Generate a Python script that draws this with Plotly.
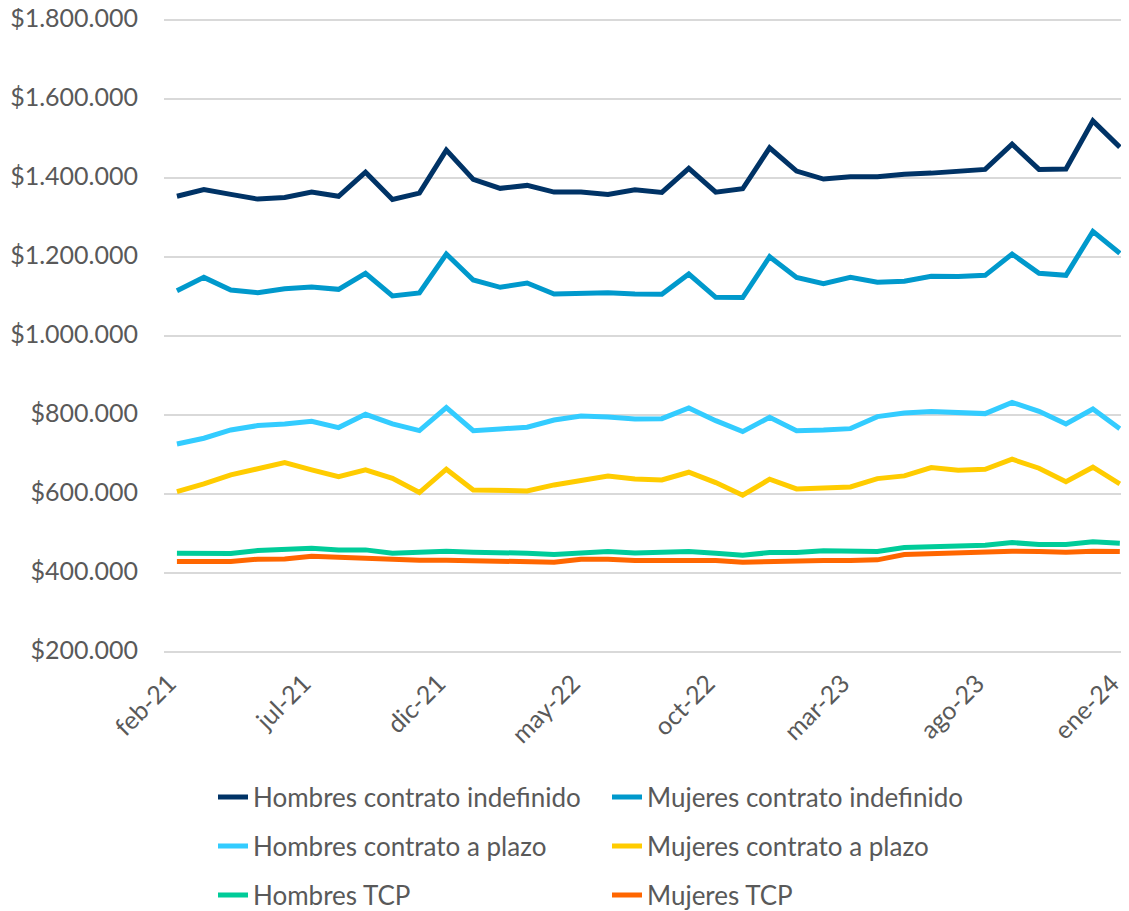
import plotly.graph_objects as go

months = ["feb-21","mar-21","abr-21","may-21","jun-21","jul-21","ago-21","sep-21","oct-21","nov-21","dic-21",
          "ene-22","feb-22","mar-22","abr-22","may-22","jun-22","jul-22","ago-22","sep-22","oct-22","nov-22","dic-22",
          "ene-23","feb-23","mar-23","abr-23","may-23","jun-23","jul-23","ago-23","sep-23","oct-23","nov-23","dic-23",
          "ene-24"]

hombres_indef = [1354000,1371000,1358700,1346800,1351000,1364500,1354000,1415000,1346000,1362000,1471000,
                 1396700,1374000,1381500,1364500,1364500,1358700,1370400,1363800,1424500,1364500,1373000,1476700,
                 1417700,1397500,1403400,1403700,1410000,1412600,1417700,1422000,1486000,1422000,1423000,1545000,
                 1478500]
mujeres_indef = [1114700,1148500,1116500,1109700,1119800,1124000,1118200,1158700,1101300,1108900,1207600,
                 1141800,1123300,1134200,1106300,1106700,1109700,1106300,1105500,1157000,1098000,1097500,1200800,
                 1148500,1132400,1148500,1136000,1138500,1151100,1151000,1153600,1207600,1158700,1153600,1265000,
                 1209300]
hombres_plazo = [726600,741000,762000,773000,777200,784000,768000,801700,777200,760300,818500,
                 760300,764600,768800,787300,797500,795000,790000,790700,817700,785600,757800,794100,
                 760300,762000,765300,795800,805000,808500,806700,803400,832000,809300,777200,815200,
                 765300]
mujeres_plazo = [605900,625300,648100,662500,679300,660800,643800,660800,639700,603400,662500,
                 610100,610100,607600,622800,633800,645600,638000,635400,654900,628700,596600,637200,
                 612700,614400,617700,638800,645600,666600,660000,662500,687800,665100,631100,667600,
                 625300]
hombres_tcp = [449800,449000,449000,456500,458200,462400,458200,458200,449800,452300,454900,
               452300,452300,449800,446400,451400,454000,450600,451400,454000,449800,444700,451400,
               451400,455700,454000,454000,464100,465800,466600,470100,476700,471600,471600,478500,
               475200]
mujeres_tcp = [428600,428600,428900,434700,435400,442300,439700,438000,432900,432000,432000,
               431200,430400,428600,427000,434700,434700,431200,432000,432900,431200,427000,428900,
               430400,431200,431200,432900,446400,448900,448900,451400,454900,454000,452300,454900,
               454000]

series_names = ["Hombres contrato indefinido","Mujeres contrato indefinido",
                "Hombres contrato a plazo","Mujeres contrato a plazo",
                "Hombres TCP","Mujeres TCP"]
series_values = [hombres_indef, mujeres_indef, hombres_plazo, mujeres_plazo, hombres_tcp, mujeres_tcp]
colors = ["#003366","#0099CC","#33CCFF","#FFCC00","#00CC99","#FF6600"]
legend_ids = ["legend","legend","legend2","legend2","legend3","legend3"]

y_tickvals = [200000,400000,600000,800000,1000000,1200000,1400000,1600000,1800000]
y_ticktext = ["$200.000","$400.000","$600.000","$800.000","$1.000.000","$1.200.000",
              "$1.400.000","$1.600.000","$1.800.000"]
x_tick_idx = [0,5,10,15,20,25,30,35]

FONT = "Lato, 'Open Sans', sans-serif"
GRAY = "#595959"
W, H = 1129, 911  # page body adds an 8px offset; figure overflows the view by 8px

fig = go.Figure()
xs = list(range(len(months)))
for name, vals, col, lg in zip(series_names, series_values, colors, legend_ids):
    fig.add_trace(go.Scatter(x=xs, y=vals, mode="lines", name=name,
                             line=dict(color=col, width=5), legend=lg))

leg_common = dict(orientation="h", xref="container", yref="container",
                  x=205/W, xanchor="left", yanchor="middle",
                  font=dict(family=FONT, size=26, color=GRAY),
                  entrywidth=349, entrywidthmode="pixels",
                  bgcolor="rgba(0,0,0,0)", itemwidth=30)

fig.update_layout(
    width=W, height=H,
    margin=dict(l=156, r=8, t=11, b=266),
    paper_bgcolor="white", plot_bgcolor="white",
    font=dict(family=FONT, color=GRAY),
    xaxis=dict(range=[-0.48, 35.34], tickvals=[xs[i] for i in x_tick_idx],
               ticktext=[months[i] for i in x_tick_idx], tickangle=-45,
               showgrid=False, zeroline=False, showline=False, ticks="",
               automargin=False, ticklabeloverflow="allow", ticklabelstandoff=10,
               ticklabelshift=-8,
               tickfont=dict(family=FONT, size=25, color=GRAY)),
    yaxis=dict(range=[197000, 1803000], tickvals=y_tickvals, ticktext=y_ticktext,
               showgrid=True, gridcolor="#D9D9D9", gridwidth=2, zeroline=False,
               showline=False, ticks="", ticklabelstandoff=25, automargin=False,
               ticklabeloverflow="allow", ticklabelshift=-2,
               tickfont=dict(family=FONT, size=25, color=GRAY)),
    legend=dict(**leg_common, y=1-789/H),
    legend2=dict(**leg_common, y=1-838/H),
    legend3=dict(**leg_common, y=1-887/H),
)

fig.write_html("out.html")
